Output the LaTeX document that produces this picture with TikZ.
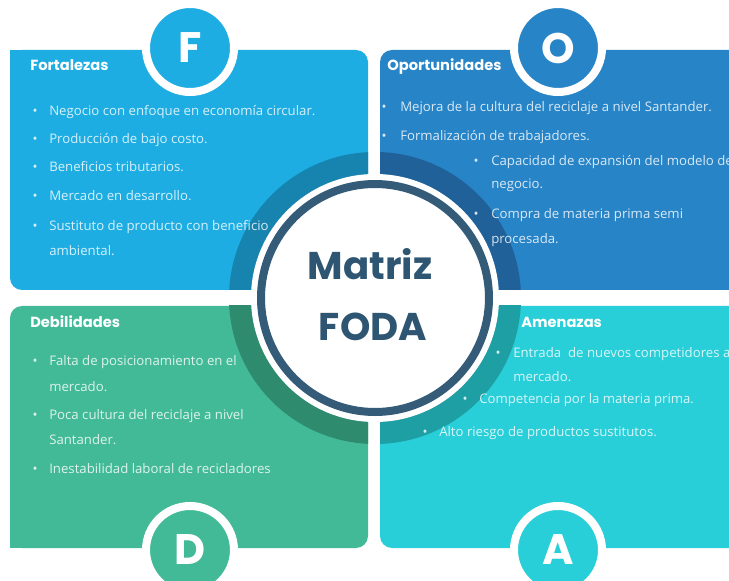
\documentclass[tikz,border=0pt]{standalone}
\usepackage{fontspec}
\setmainfont{Open Sans}
\newfontfamily\pop{Poppins}
\definecolor{fcol}{HTML}{1DADE2}
\definecolor{ocol}{HTML}{2784C7}
\definecolor{dcol}{HTML}{43BA97}
\definecolor{acol}{HTML}{28CED8}
\definecolor{fring}{HTML}{1784B0}
\definecolor{oring}{HTML}{1F6198}
\definecolor{dring}{HTML}{2F8B6E}
\definecolor{aring}{HTML}{1E9FA4}
\definecolor{darkc}{HTML}{345B78}
\definecolor{titc}{HTML}{2E5571}
\begin{document}
\begin{tikzpicture}[x=0.75pt,y=-0.75pt,
  itm/.style={anchor=base west,inner sep=0pt,font=\fontsize{9.9}{11}\selectfont,text=white,text opacity=0.82},
  bul/.style={anchor=base,inner sep=0pt,font=\fontsize{9.9}{11}\selectfont,text=white,text opacity=0.82},
  hdr/.style={anchor=base west,inner sep=0pt,font=\pop\bfseries\fontsize{11}{12}\selectfont,text=white},
  lett/.style={circle,inner sep=0pt,minimum size=66pt,draw=white,line width=6pt,font=\pop\bfseries\fontsize{32}{32}\selectfont,text=white},
  ttl/.style={inner sep=0pt,font=\pop\bfseries\fontsize{29}{29}\selectfont,text=titc},
  rc/.style={rounded corners=9pt}]
\useasboundingbox (0,0) rectangle (729,581);
\clip (0,0) rectangle (729,581);
\fill[white] (0,0) rectangle (729,581);
% boxes
\fill[fcol,rc] (10,50) rectangle (368,290);
\fill[fcol] (10,50) rectangle (30,70);
\fill[ocol,rc] (380,50) rectangle (741,290);
\fill[ocol] (700,50) rectangle (741,70);
\fill[dcol,rc] (10,306) rectangle (368,548);
\fill[dcol] (10,528) rectangle (30,548);
\fill[acol,rc] (380,306) rectangle (741,548);
\fill[acol] (700,528) rectangle (741,548);
% ring quadrants
\coordinate (C) at (375,298);
\begin{scope}\clip (0,0) rectangle (368,290);\fill[fring] (C) circle[radius=109.5pt];\end{scope}
\begin{scope}\clip (380,0) rectangle (729,290);\fill[oring] (C) circle[radius=109.5pt];\end{scope}
\begin{scope}\clip (0,306) rectangle (368,581);\fill[dring] (C) circle[radius=109.5pt];\end{scope}
\begin{scope}\clip (380,306) rectangle (729,581);\fill[aring] (C) circle[radius=109.5pt];\end{scope}
% headers
\node[hdr] (fh) at (30,71) {Fortalezas};
\node[hdr] (oh) at (387,71) {Oportunidades};
\node[hdr] (dh) at (30,328) {Debilidades};
\node[hdr] (ah) at (521,328) {Amenazas};
% Fortalezas
\node[bul] (fb1) at (35,116) {•};
\node[itm] (f1) at (49,116) {Negocio con enfoque en economía circular.};
\node[bul] (fb2) at (35,144) {•};
\node[itm] (f2) at (49,144) {Producción de bajo costo.};
\node[bul] (fb3) at (35,172) {•};
\node[itm] (f3) at (49,172) {Beneficios tributarios.};
\node[bul] (fb4) at (35,201) {•};
\node[itm] (f4) at (49,201) {Mercado en desarrollo.};
\node[bul] (fb5) at (35,231) {•};
\node[itm] (f5) at (49,231) {Sustituto de producto con beneficio};
\node[itm] (f5b) at (49,256) {ambiental.};
% Oportunidades
\node[bul] (ob1) at (384,112) {•};
\node[itm] (o1) at (400,112) {Mejora de la cultura del reciclaje a nivel Santander.};
\node[bul] (ob2) at (384,141) {•};
\node[itm] (o2) at (400,141) {Formalización de trabajadores.};
\node[bul] (ob3) at (476,166) {•};
\node[itm] (o3) at (491,166) {Capacidad de expansión del modelo de};
\node[itm] (o3b) at (491,189) {negocio.};
\node[bul] (ob4) at (476,219) {•};
\node[itm] (o4) at (491,219) {Compra de materia prima semi};
\node[itm] (o4b) at (491,244) {procesada.};
% Debilidades
\node[bul] (db1) at (35,365) {•};
\node[itm] (d1) at (49,365) {Falta de posicionamiento en el};
\node[itm] (d1b) at (49,391) {mercado.};
\node[bul] (db2) at (35,419) {•};
\node[itm] (d2) at (49,419) {Poca cultura del reciclaje a nivel};
\node[itm] (d2b) at (49,444) {Santander.};
\node[bul] (db3) at (35,473) {•};
\node[itm] (d3) at (49,473) {Inestabilidad laboral de recicladores};
% Amenazas
\node[bul] (ab1) at (498,357) {•};
\node[itm] (a1) at (513,357) {Entrada\ \ de nuevos competidores al};
\node[itm] (a1b) at (513,382) {mercado.};
\node[bul] (ab2) at (465,403) {•};
\node[itm] (a2) at (479,403) {Competencia por la materia prima.};
\node[bul] (ab3) at (425,436) {•};
\node[itm] (a3) at (439,436) {Alto riesgo de productos sustitutos.};
% center
\fill[white] (C) circle[radius=93pt];
\draw[darkc,line width=6pt] (C) circle[radius=85.5pt];
\node[ttl] (t1) at (370,264) {Matriz};
\node[ttl] (t2) at (373,327) {FODA};
% letter circles
\node[lett,fill=fcol] (F) at (190,48) {F};
\node[lett,fill=ocol] (O) at (558,48) {O};
\node[lett,fill=dcol] (D) at (190,550) {D};
\node[lett,fill=acol] (A) at (558,550) {A};
\end{tikzpicture}
\end{document}
